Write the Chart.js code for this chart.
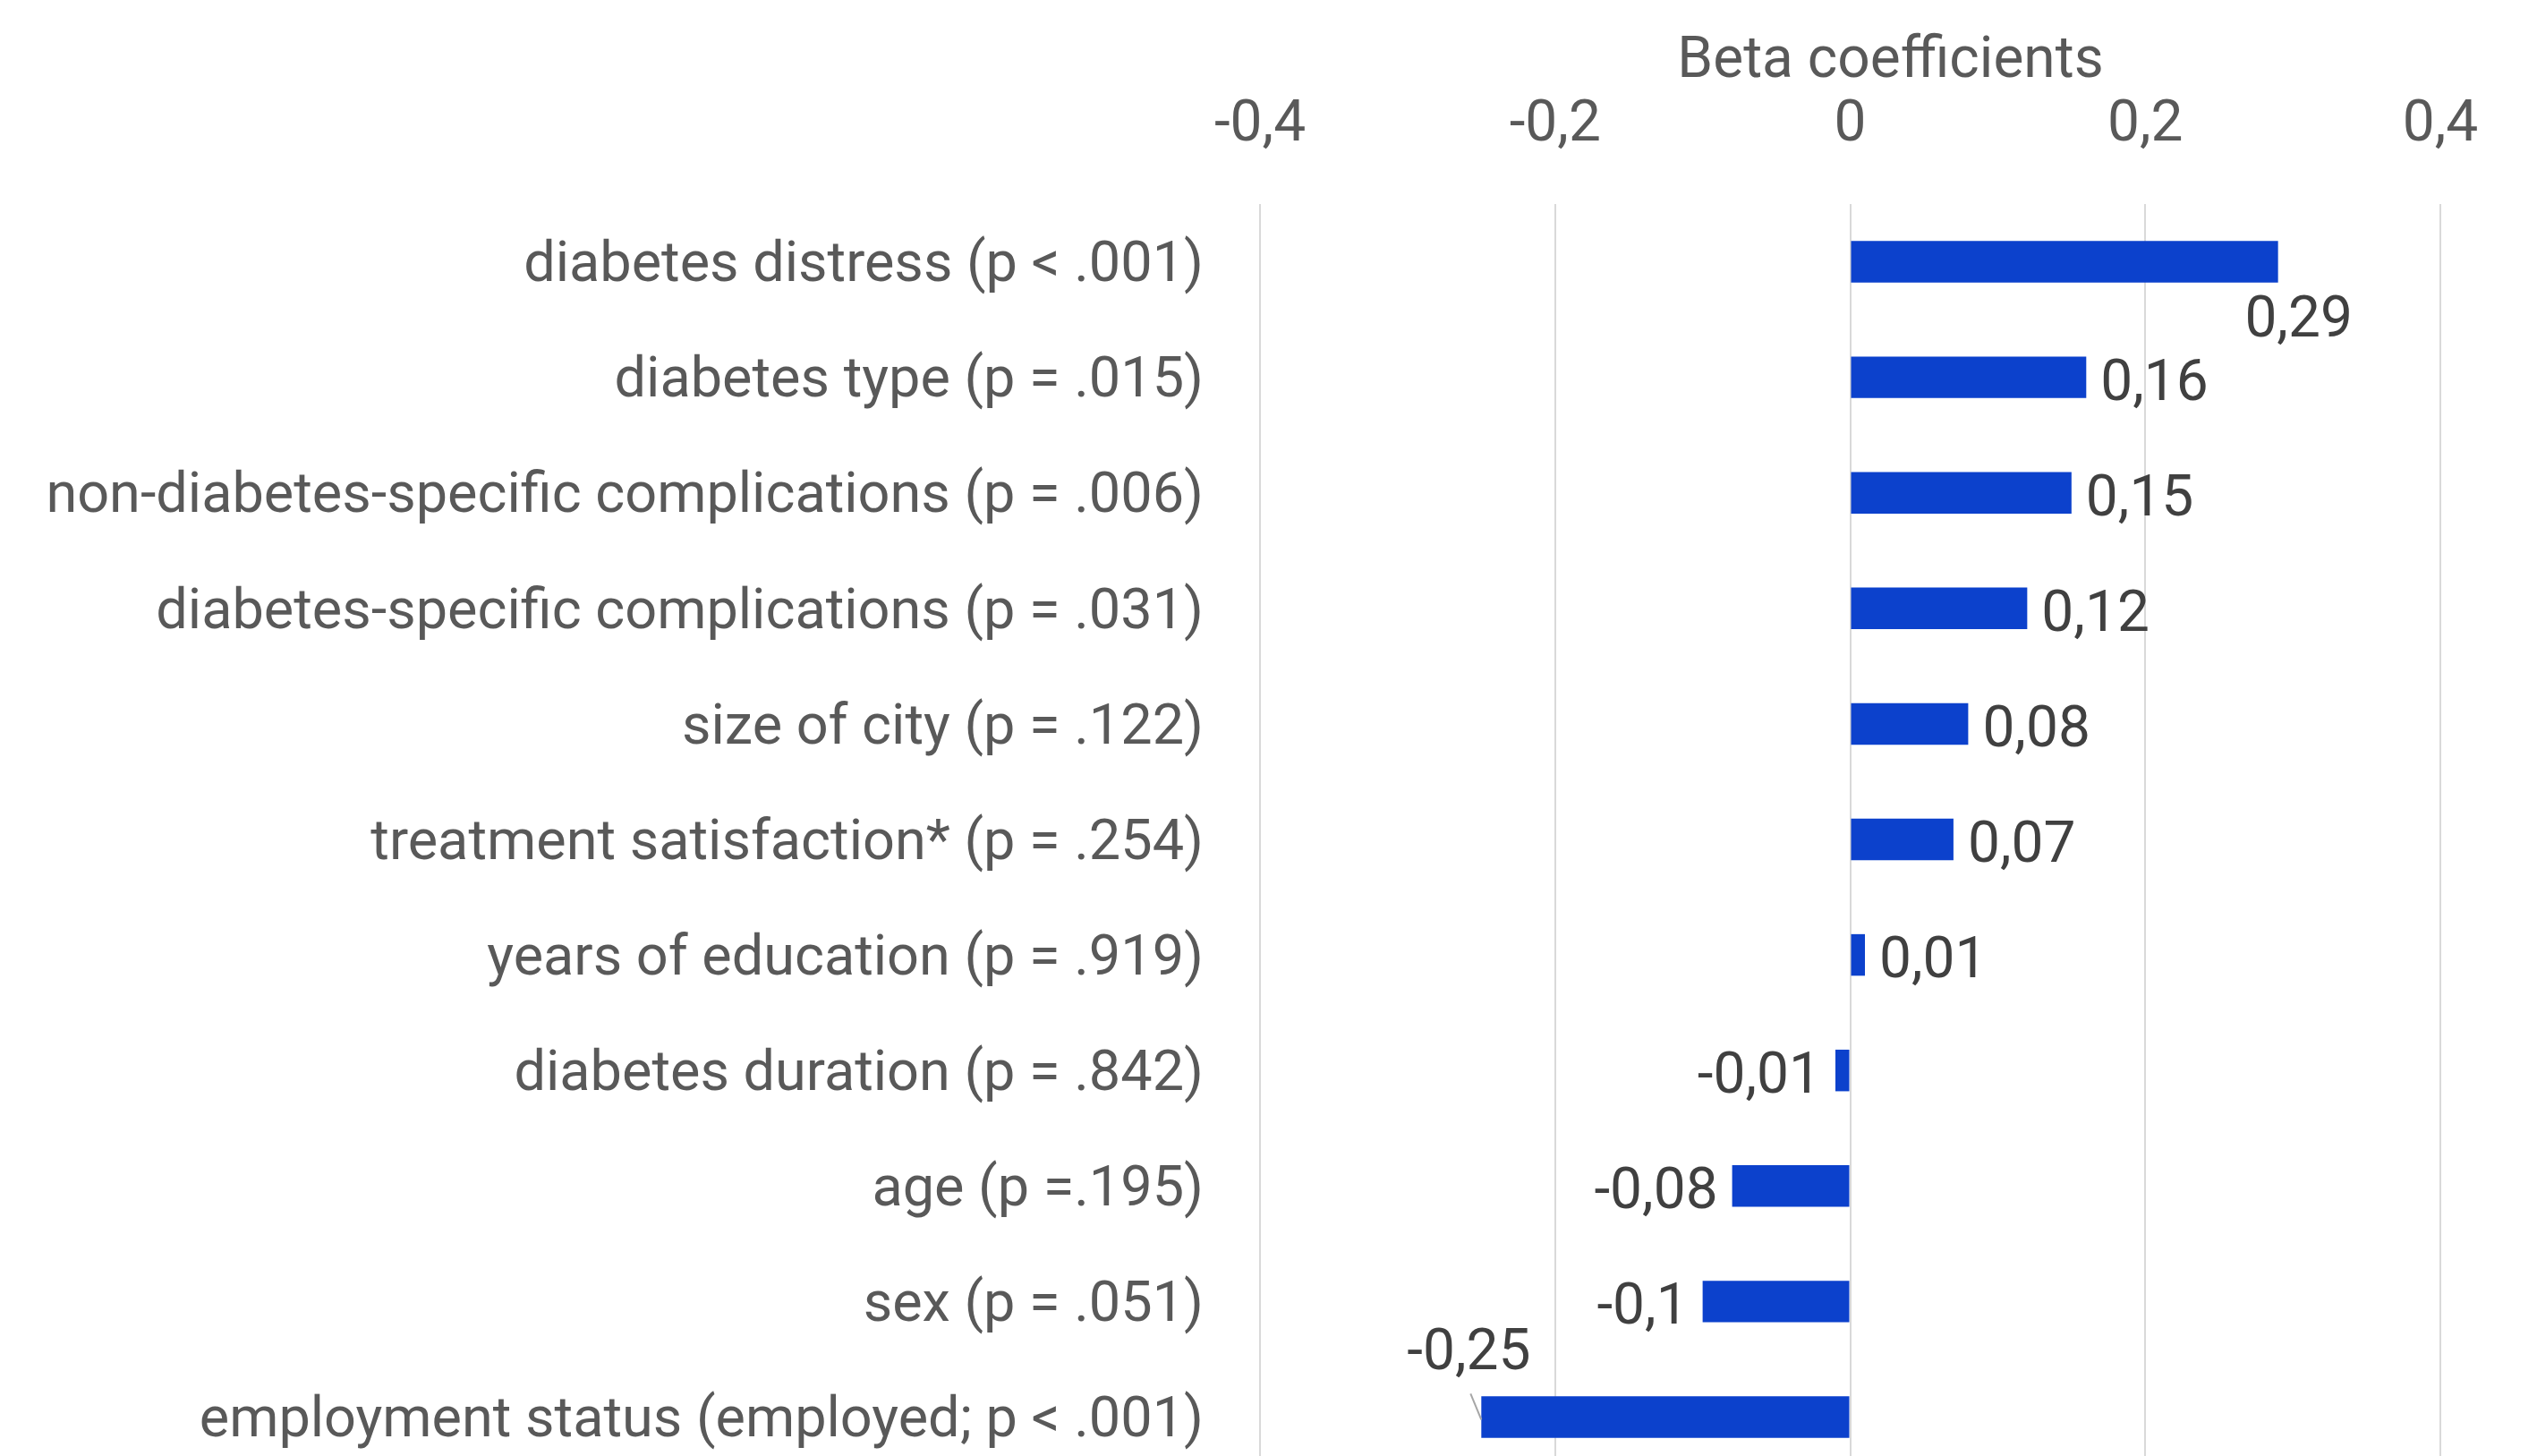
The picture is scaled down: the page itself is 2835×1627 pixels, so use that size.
<!DOCTYPE html>
<html>
<head>
<meta charset="utf-8">
<script src="https://cdn.jsdelivr.net/npm/chart.js@4"></script>
<style>
    html, body { margin: 0; padding: 0; background: #fff; overflow: hidden; }
    canvas { display: block; }
</style>
</head>
<body>
<canvas id="betaChart" width="2835" height="1648"></canvas>
<script>
const categories = [
    "diabetes distress (p < .001)",
    "diabetes type (p = .015)",
    "non-diabetes-specific complications (p = .006)",
    "diabetes-specific complications (p = .031)",
    "size of city (p = .122)",
    "treatment satisfaction* (p = .254)",
    "years of education (p = .919)",
    "diabetes duration (p = .842)",
    "age (p =.195)",
    "sex (p = .051)",
    "employment status (employed; p < .001)"
];
const betaValues = [0.29, 0.16, 0.15, 0.12, 0.08, 0.07, 0.01, -0.01, -0.08, -0.1, -0.25];
const tickValues = [-0.4, -0.2, 0, 0.2, 0.4];
const axisTitle = "Beta coefficients";

const betaChart = document.getElementById("betaChart");
const fontFamily = "Roboto, 'Noto Sans', sans-serif";

function commaNumber(v) {
    return String(Math.round(v * 100) / 100).replace(".", ",");
}

// value labels next to the bar ends, two of them moved by hand like in the original
// axis title is drawn here too, it sits a bit right of the middle
const valueLabels = {
    id: "valueLabels",
    afterDatasetsDraw(chart) {
        const ctx = chart.ctx;
        const area = chart.chartArea;
        const bars = chart.getDatasetMeta(0).data;
        ctx.save();
        ctx.font = "64px " + fontFamily;
        ctx.fillStyle = "#595959";
        ctx.textAlign = "center";
        ctx.textBaseline = "middle";
        ctx.fillText(axisTitle, (area.left + area.right) / 2 + 45, 70);

        ctx.fillStyle = "#404040";
        bars.forEach((bar, i) => {
            const v = betaValues[i];
            const text = commaNumber(v);
            if (i === 0) {
                ctx.textAlign = "center";
                ctx.fillText(text, bar.x + 23, bar.y + 67);
            } else if (i === betaValues.length - 1) {
                ctx.textAlign = "center";
                ctx.fillText(text, bar.x - 14, bar.y - 69);
                ctx.strokeStyle = "#a6a6a6";
                ctx.lineWidth = 2;
                ctx.beginPath();
                ctx.moveTo(bar.x - 12, bar.y - 26);
                ctx.lineTo(bar.x, bar.y + 3);
                ctx.stroke();
            } else if (v >= 0) {
                ctx.textAlign = "left";
                ctx.fillText(text, bar.x + 16, bar.y + 9);
            } else {
                ctx.textAlign = "right";
                ctx.fillText(text, bar.x - 16, bar.y + 9);
            }
        });
        ctx.restore();
    }
};

new Chart(betaChart, {
    type: "bar",
    data: {
        labels: categories,
        datasets: [
            {
                data: betaValues,
                backgroundColor: "#0c41cc",
                borderWidth: 0,
                categoryPercentage: 1,
                barPercentage: 0.36,
            },
        ],
    },
    options: {
        indexAxis: "y",
        responsive: false,
        animation: false,
        devicePixelRatio: 1,
        layout: {
            padding: { left: 0, right: 108, top: 0, bottom: 0 },
        },
        plugins: {
            legend: { display: false },
            tooltip: { enabled: false },
        },
        scales: {
            x: {
                position: "top",
                min: -0.4,
                max: 0.4,
                afterBuildTicks: (scale) => {
                    scale.ticks = tickValues.map((v) => ({ value: v }));
                },
                afterFit: (scale) => {
                    scale.height = 228;
                },
                border: { display: false },
                grid: {
                    color: "#d9d9d9",
                    lineWidth: 2,
                    drawTicks: false,
                },
                ticks: {
                    color: "#595959",
                    font: { family: fontFamily, size: 64 },
                    padding: 49,
                    callback: (v) => commaNumber(v),
                },
            },
            y: {
                afterFit: (scale) => {
                    scale.width = 1408;
                    scale.paddingTop = 0;
                    scale.paddingBottom = 0;
                },
                border: { display: false },
                grid: { display: false, drawTicks: false },
                ticks: {
                    color: "#595959",
                    font: { family: fontFamily, size: 63 },
                    padding: 63,
                    labelOffset: 6,
                },
            },
        },
    },
    plugins: [valueLabels],
});
</script>
</body>
</html>
